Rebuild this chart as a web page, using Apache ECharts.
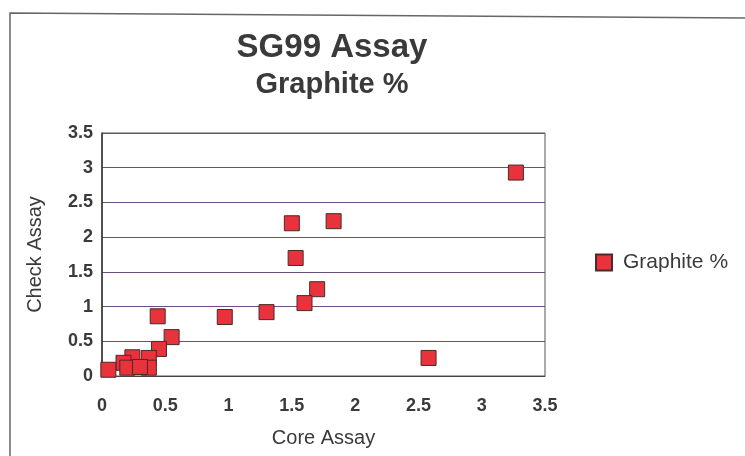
<!DOCTYPE html>
<html>
<head>
	<meta charset="utf-8">
	<title>SG99 Assay</title>
	<script src="https://cdn.jsdelivr.net/npm/echarts@6/dist/echarts.min.js"></script>
	<style type="text/css">
		html,body{
			margin: 0;
			width: 100%;
			height: 100%;
			background: #fff;
		}
		#main{
			width: 745px;
			height: 456px;
		}
	</style>
</head>
<body>
<div id="main"></div>
<script>
    // 核心样 (x) 与 检查样 (y)
    var coreAssay  = [3.27, 1.50, 1.83, 1.53, 1.70, 1.60, 1.30, 0.97, 2.58, 0.44, 0.55, 0.45, 0.37, 0.24, 0.17, 0.20, 0.37, 0.05, 0.30];
    var checkAssay = [2.93, 2.20, 2.23, 1.70, 1.25, 1.05, 0.92, 0.85, 0.26, 0.86, 0.56, 0.39, 0.26, 0.27, 0.19, 0.12, 0.12, 0.09, 0.13];
    var axisTicks = ['0', '0.5', '1', '1.5', '2', '2.5', '3', '3.5'];
    var seriesName = 'Graphite %';

    var points = [];
    for (var i = 0; i < coreAssay.length; i++) {
        points.push([coreAssay[i], checkAssay[i]]);
    }

    var textColor = '#3a3a3a';
    var myChart = echarts.init(document.getElementById('main'));
    var option = {
        backgroundColor: '#fff',
        animation: false,
        title: {
            text: 'SG99 Assay',
            subtext: 'Graphite %',
            left: 327,
            top: 26,
            textAlign: 'center',
            itemGap: 6,
            textStyle: { fontFamily: 'Liberation Sans', fontSize: 33, fontWeight: 'bold', color: textColor },
            subtextStyle: { fontFamily: 'Liberation Sans', fontSize: 29, fontWeight: 'bold', color: textColor }
        },
        legend: {
            data: [seriesName],
            left: 590,
            top: 247,
            itemWidth: 16,
            itemHeight: 16,
            itemGap: 10,
            textStyle: { fontFamily: 'Liberation Sans', fontSize: 21, color: textColor, padding: [0, 0, 0, 6] }
        },
        grid: {
            left: 102,
            right: 745 - 545,
            top: 133,
            bottom: 456 - 376,
            show: true,
            borderColor: '#555',
            borderWidth: 1
        },
        xAxis: {
            type: 'value',
            min: 0,
            max: 3.5,
            interval: 0.5,
            name: 'Core Assay',
            nameLocation: 'middle',
            nameGap: 52,
            nameTextStyle: { fontFamily: 'Liberation Sans', fontSize: 20, color: textColor },
            axisLine: { show: true, lineStyle: { color: '#444' } },
            axisTick: { show: false },
            splitLine: { show: false },
            axisLabel: {
                margin: 21,
                fontFamily: 'Liberation Sans', fontSize: 18, fontWeight: 'bold', color: textColor,
                formatter: function (v) { return axisTicks[Math.round(v / 0.5)]; }
            }
        },
        yAxis: {
            type: 'value',
            min: 0,
            max: 3.5,
            interval: 0.5,
            name: 'Check Assay',
            nameLocation: 'middle',
            nameGap: 57,
            nameTextStyle: { fontFamily: 'Liberation Sans', fontSize: 20, color: textColor },
            axisLine: { show: true, lineStyle: { color: '#333', width: 1.5 } },
            axisTick: { show: false },
            splitLine: { show: true, lineStyle: { color: '#6b4f80', width: 1 } },
            axisLabel: {
                margin: 9,
                fontFamily: 'Liberation Sans', fontSize: 18, fontWeight: 'bold', color: textColor,
                formatter: function (v) { return axisTicks[Math.round(v / 0.5)]; }
            }
        },
        graphic: [
            {
                type: 'polyline',
                silent: true,
                shape: { points: [[10, 456], [10, 13], [745, 18]] },
                style: { stroke: '#666', lineWidth: 1.5, fill: null }
            }
        ],
        series: [
            {
                name: seriesName,
                type: 'scatter',
                symbol: 'rect',
                symbolSize: 15,
                itemStyle: { color: '#e8323c', borderColor: '#4a2a2a', borderWidth: 1, opacity: 1 },
                data: points
            }
        ]
    };
    myChart.setOption(option);
</script>
</body>
</html>
